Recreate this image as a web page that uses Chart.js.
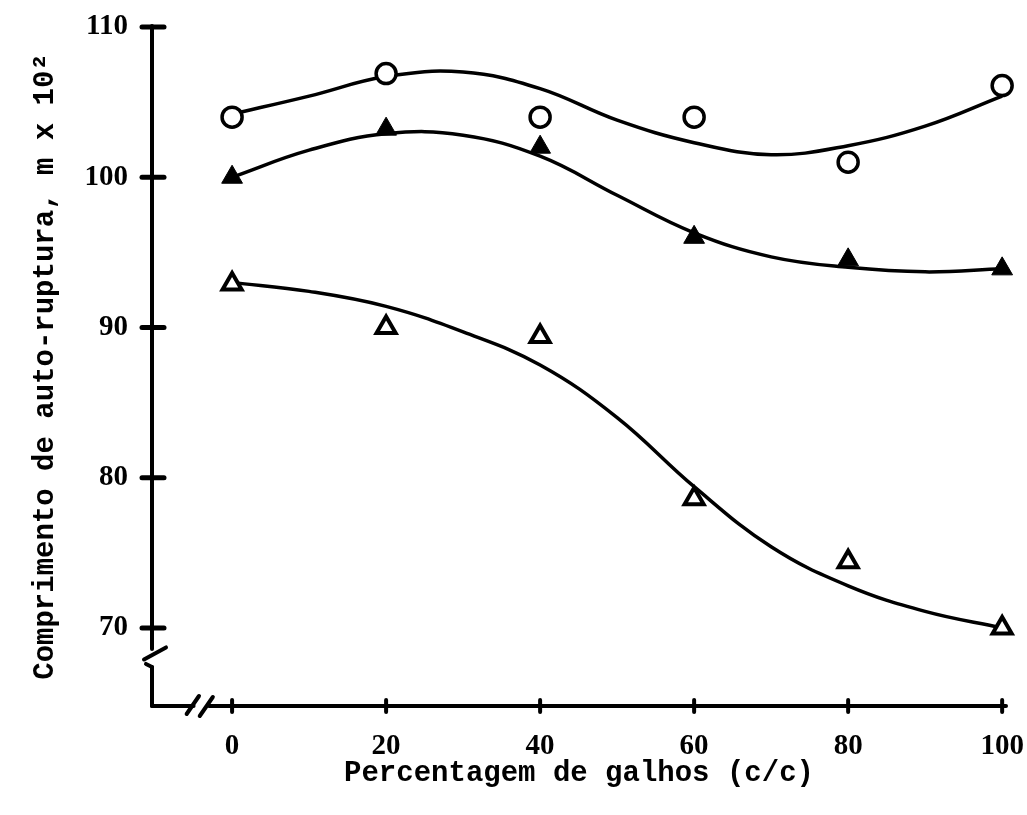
<!DOCTYPE html>
<html lang="pt">
<head>
<meta charset="UTF-8">
<title>Comprimento de auto-ruptura</title>
<style>
  body { margin: 0; background: #fff; }
  canvas { display: block; }
</style>
</head>
<body>
<canvas id="chart" width="1027" height="815"></canvas>
<script src="https://cdn.jsdelivr.net/npm/chart.js@4.4.0/dist/chart.umd.min.js"></script>
<script>
// measured points
const percentages = [0, 20, 40, 60, 80, 100];
const circleValues = [104, 106.9, 104, 104, 101, 106.1];
const filledTriValues = [100, 103.2, 102, 96, 94.5, 93.9];
const openTriValues = [92.9, 90, 89.4, 78.6, 74.4, 70];

// fitted curves, every 10 %
const curveX = [0, 10, 20, 30, 40, 50, 60, 70, 80, 90, 100];
const circleFit = [104.2, 105.4, 106.7, 107.0, 105.9, 103.8, 102.3, 101.5, 102.1, 103.4, 105.4];
const filledTriFit = [100.0, 101.8, 102.9, 102.8, 101.4, 98.8, 96.3, 94.7, 94.0, 93.7, 93.9];
const openTriFit = [93.0, 92.4, 91.4, 89.7, 87.5, 84.0, 79.4, 75.4, 72.8, 71.1, 70.0];

const xTicks = [0, 20, 40, 60, 80, 100];
const yTicks = [70, 80, 90, 100, 110];

const pts = (xs, ys) => xs.map((x, i) => ({ x: x, y: ys[i] }));

const tickFont = { family: 'Liberation Serif', size: 29, weight: 'bold' };
const titleFont = { family: 'Liberation Mono', size: 29, weight: 'bold' };

// axes with breaks, drawn by hand on top of the library scales
const brokenAxes = {
    id: 'brokenAxes',
    beforeDatasetsDraw(chart) {
        const { ctx } = chart;
        const xs = chart.scales.x, ys = chart.scales.y;
        const ax = xs.left, ay = ys.bottom;
        const line = (x1, y1, x2, y2) => {
            ctx.beginPath(); ctx.moveTo(x1, y1); ctx.lineTo(x2, y2); ctx.stroke();
        };
        ctx.save();
        ctx.strokeStyle = '#000';
        ctx.lineCap = 'round';
        ctx.lineWidth = 4;

        // y axis, broken just under 70
        line(ax, ys.top - 1, ax, ys.getPixelForValue(68.6));
        line(ax - 8, ys.getPixelForValue(67.9), ax + 14, ys.getPixelForValue(68.7));
        line(ax - 6, ys.getPixelForValue(67.6), ax, ys.getPixelForValue(67.4));
        line(ax, ys.getPixelForValue(67.4), ax, ay);

        // x axis, broken left of 0
        line(ax, ay, xs.getPixelForValue(-5.0), ay);
        line(xs.getPixelForValue(-5.9), ay + 8, xs.getPixelForValue(-4.3), ay - 10);
        line(xs.getPixelForValue(-4.2), ay + 10, xs.getPixelForValue(-2.5), ay - 9);
        line(xs.getPixelForValue(-3.0), ay, xs.right, ay);

        // crossing tick marks
        ctx.lineWidth = 5;
        yTicks.forEach(v => {
            const py = ys.getPixelForValue(v);
            line(ax - 10, py, ax + 12, py);
        });
        ctx.lineWidth = 4;
        xTicks.forEach(v => {
            const px = xs.getPixelForValue(v);
            line(px, ay - 6, px, ay + 6);
        });
        ctx.restore();
    }
};

const curve = (data) => ({
    type: 'line',
    data: data,
    borderColor: '#000',
    borderWidth: 3.5,
    pointRadius: 0,
    tension: 0.4,
    fill: false
});

// keep label overhang out of the layout so the plot area is fixed
const noPad = s => { s.paddingTop = 0; s.paddingBottom = 0; s.paddingLeft = 0; s.paddingRight = 0; };

new Chart(document.getElementById('chart'), {
    type: 'scatter',
    data: {
        datasets: [
            {
                label: 'o',
                data: pts(percentages, circleValues),
                pointStyle: 'circle',
                pointRadius: 10,
                borderWidth: 3.5,
                borderColor: '#000',
                backgroundColor: '#fff'
            },
            {
                label: 'filled',
                data: pts(percentages, filledTriValues),
                pointStyle: 'triangle',
                pointRadius: 12,
                borderWidth: 1,
                borderColor: '#000',
                backgroundColor: '#000'
            },
            {
                label: 'open',
                data: pts(percentages, openTriValues),
                pointStyle: 'triangle',
                pointRadius: 11,
                borderWidth: 4,
                borderColor: '#000',
                backgroundColor: '#fff'
            },
            curve(pts(curveX, circleFit)),
            curve(pts(curveX, filledTriFit)),
            curve(pts(curveX, openTriFit))
        ]
    },
    options: {
        responsive: false,
        animation: false,
        clip: false,
        layout: { padding: { top: 27, right: 21, left: 0, bottom: 0 } },
        plugins: {
            legend: { display: false },
            tooltip: { enabled: false }
        },
        scales: {
            x: {
                type: 'linear',
                min: -10.4,
                max: 100.5,
                afterBuildTicks: s => { s.ticks = xTicks.map(v => ({ value: v })); },
                afterFit: s => { s.height = 109; noPad(s); },
                grid: { display: false, drawTicks: false },
                border: { display: false },
                ticks: { color: '#000', font: tickFont, padding: 23, maxRotation: 0, autoSkip: false },
                title: {
                    display: true,
                    text: 'Percentagem de galhos (c/c)',
                    color: '#000',
                    font: titleFont,
                    padding: { top: 0, bottom: 24 }
                }
            },
            y: {
                min: 64.8,
                max: 110,
                afterBuildTicks: s => { s.ticks = yTicks.map(v => ({ value: v })); },
                afterFit: s => { s.width = 152; noPad(s); },
                grid: { display: false, drawTicks: false },
                border: { display: false },
                ticks: { color: '#000', font: tickFont, padding: 24, autoSkip: false },
                title: {
                    display: true,
                    text: 'Comprimento de auto-ruptura, m x 10²',
                    color: '#000',
                    font: titleFont,
                    padding: { top: 28, bottom: 0 }
                }
            }
        }
    },
    plugins: [brokenAxes]
});
</script>
</body>
</html>
